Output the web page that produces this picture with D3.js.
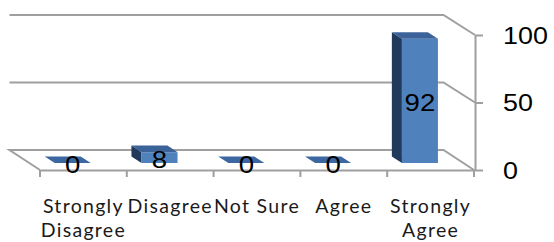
<!DOCTYPE html>
<html><head><meta charset="utf-8">
<script src="https://cdn.jsdelivr.net/npm/d3@7/dist/d3.min.js"></script>
<style>
html,body{margin:0;padding:0;background:#fff;overflow:hidden;}
svg{display:block;}
</style></head>
<body>
<svg id="chart" width="554" height="242"></svg>
<script>
const categories = ["Strongly Disagree","Disagree","Not Sure","Agree","Strongly Agree"];
const labelLines = [["Strongly","Disagree"],["Disagree"],["Not Sure"],["Agree"],["Strongly","Agree"]];
const values = [0,8,0,0,92];
const yTicks = [0,50,100];

const svg = d3.select("#chart");
const DX = 30.5, DY = 20;          // depth offset of back wall
const tF = 0.35, tB = 0.68;        // bar front/back depth fraction
const gridColor = "#9f9f9f";

const x = d3.scaleBand().domain(categories).range([40,474]);
const y = d3.scaleLinear().domain([0,100]).range([170,35]);
const proj = (px,py,t) => [px - DX*t, py - DY*t];
const x0 = x.range()[0], x1 = x.range()[1];

const walls = svg.append("g").attr("fill","none").attr("stroke",gridColor).attr("stroke-width",2);
yTicks.filter(v=>v>0).forEach(v=>{
  const a = proj(x0,y(v),1), b = proj(x1,y(v),1), c = [x1+1,y(v)];
  walls.append("polyline").attr("points",[a,b,c].map(p=>p.join(",")).join(" "));
});
{
  const bl = proj(x0,y(0),1), br = proj(x1,y(0),1), fl = [x0,y(0)], fr = [x1,y(0)];
  walls.append("polyline").attr("points",[fl,bl,br,fr].map(p=>p.join(",")).join(" "));
}

const barW = x.bandwidth()*0.415;
const bars = svg.append("g");
categories.forEach((c,i)=>{
  const v = values[i];
  const cx = x(c) + x.bandwidth()/2;
  const L = cx - barW/2, R = cx + barW/2, yb = y(0), yt = y(v);
  const pts = a=>a.map(p=>p.join(",")).join(" ");
  if (v>0){
    bars.append("polygon").attr("fill","#203a5c")
      .attr("points",pts([proj(L,yt,tF),proj(L,yt,tB),proj(L,yb,tB),proj(L,yb,tF)]));
    bars.append("polygon").attr("fill","#4f81bd")
      .attr("points",pts([proj(L,yt,tF),proj(R,yt,tF),proj(R,yb,tF),proj(L,yb,tF)]));
  }
  bars.append("polygon").attr("fill", v>0 ? "#3b6399" : "#3c67a0")
    .attr("points",pts([proj(L,yt,tF),proj(R,yt,tF),proj(R,yt,tB),proj(L,yt,tB)]));
});

const yAxis = svg.append("g").attr("transform",`translate(${x1+1},0)`)
  .call(d3.axisRight(y).tickValues(yTicks).tickSize(8).tickSizeOuter(0).tickPadding(20));
yAxis.select(".domain").attr("stroke",gridColor).attr("stroke-width",2);
yAxis.selectAll(".tick line").attr("stroke",gridColor).attr("stroke-width",2);
yAxis.selectAll(".tick text")
  .attr("x",null).attr("dy",null)
  .attr("transform","translate(28,0) scale(1.12,1)")
  .attr("dominant-baseline","central")
  .attr("font-family","'Liberation Sans', Arial, sans-serif")
  .attr("font-size",24).attr("fill","#000");

const xAxis = svg.append("g").attr("transform",`translate(0,${y(0)})`)
  .call(d3.axisBottom(x).tickSize(0).tickSizeOuter(0).tickFormat(""));
xAxis.select(".domain").attr("stroke",gridColor).attr("stroke-width",2);
const bounds = categories.map(c=>x(c)).concat([x1]);
xAxis.selectAll("line.bound").data(bounds).enter().append("line")
  .attr("x1",d=>d).attr("x2",d=>d).attr("y1",0).attr("y2",7)
  .attr("stroke",gridColor).attr("stroke-width",2);
const catText = svg.append("g").attr("font-family","Lato, sans-serif")
  .attr("font-size",19.5).attr("fill","#1a1a1a").attr("text-anchor","middle")
  .attr("letter-spacing","1.3px");
categories.forEach((c,i)=>{
  const t = catText.append("text").attr("transform",`translate(${x(c)+x.bandwidth()/2},213)`);
  labelLines[i].forEach((ln,j)=>{
    t.append("tspan").attr("x",0).attr("y",j*23.5).text(ln);
  });
});

const dl = svg.append("g").attr("font-family","'Liberation Sans', Arial, sans-serif")
  .attr("font-size",24).attr("fill","#000").attr("text-anchor","middle");
categories.forEach((c,i)=>{
  const cx = x(c) + x.bandwidth()/2;
  const p = proj(cx, y(values[i]/2), tF);
  dl.append("text").attr("transform",`translate(${p[0]},${p[1]+2}) scale(1.15,1)`)
    .attr("dominant-baseline","central").text(values[i]);
});
</script>
</body></html>
